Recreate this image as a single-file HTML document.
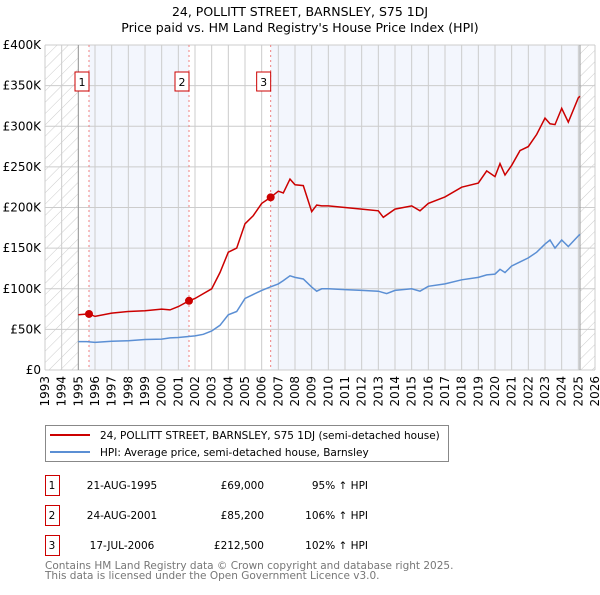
<!DOCTYPE html>
<html><head><meta charset="utf-8">
<style>
body{margin:0;background:#fff;}
svg text{font-family:"DejaVu Sans","Liberation Sans",sans-serif;}
</style></head>
<body>
<svg id="chart" width="600" height="590" viewBox="0 0 600 590" xmlns="http://www.w3.org/2000/svg">
<defs>
<pattern id="hatch" width="8" height="8" patternUnits="userSpaceOnUse" patternTransform="rotate(45)">
<line x1="0" y1="0" x2="0" y2="8" stroke="#ccc" stroke-width="1"/>
</pattern>
</defs>
<text x="300" y="16" text-anchor="middle" font-size="12.5">24, POLLITT STREET, BARNSLEY, S75 1DJ</text>
<text x="300" y="32" text-anchor="middle" font-size="12.5">Price paid vs. HM Land Registry's House Price Index (HPI)</text>
<g id="plot"></g>
<g>
<rect x="45.5" y="425.5" width="403" height="36" fill="#fff" stroke="#888"/>
<line x1="50" y1="435" x2="90" y2="435" stroke="#cc0000" stroke-width="2"/>
<text x="100" y="439" font-size="10.5">24, POLLITT STREET, BARNSLEY, S75 1DJ (semi-detached house)</text>
<line x1="50" y1="452" x2="90" y2="452" stroke="#5b8fd4" stroke-width="2"/>
<text x="100" y="456" font-size="10.5">HPI: Average price, semi-detached house, Barnsley</text>
</g>
<g id="table" font-size="10.5"></g>
<text x="45" y="569" font-size="10.5" fill="#777">Contains HM Land Registry data © Crown copyright and database right 2025.</text>
<text x="45" y="579" font-size="10.5" fill="#777">This data is licensed under the Open Government Licence v3.0.</text>
</svg>
<script>
const yearTicks=[1993,1994,1995,1996,1997,1998,1999,2000,2001,2002,2003,2004,2005,2006,2007,2008,2009,2010,2011,2012,2013,2014,2015,2016,2017,2018,2019,2020,2021,2022,2023,2024,2025,2026];
const priceTicks=[0,50000,100000,150000,200000,250000,300000,350000,400000];
const priceTickLabels=["£0","£50K","£100K","£150K","£200K","£250K","£300K","£350K","£400K"];
const hpiYears=[1995,1995.5,1996,1997,1998,1999,2000,2000.5,2001,2002,2002.5,2003,2003.5,2004,2004.5,2005,2005.5,2006,2006.5,2007,2007.3,2007.7,2008,2008.5,2009,2009.3,2009.6,2010,2011,2012,2013,2013.5,2014,2015,2015.5,2016,2017,2018,2019,2019.5,2020,2020.3,2020.6,2021,2021.5,2022,2022.5,2023,2023.3,2023.6,2024,2024.4,2025,2025.1];
const hpiValues=[35000,35000,34000,35500,36000,37500,38000,39500,40000,42000,44000,48000,55000,68000,72000,88000,93000,98000,102000,106000,110000,116000,114000,112000,102000,97000,100000,100000,99000,98000,97000,94000,98000,100000,97000,103000,106000,111000,114000,117000,118000,124000,120000,128000,133000,138000,145000,155000,160000,150000,160000,152000,165000,167000];
const saleYears=[1995,1995.64,1996,1997,1998,1999,2000,2000.5,2001,2001.64,2002,2003,2003.5,2004,2004.5,2005,2005.5,2006,2006.54,2007,2007.3,2007.7,2008,2008.5,2009,2009.3,2009.6,2010,2011,2012,2013,2013.3,2014,2015,2015.5,2016,2017,2018,2019,2019.5,2020,2020.3,2020.6,2021,2021.5,2022,2022.5,2023,2023.3,2023.6,2024,2024.4,2025,2025.1];
const saleValues=[68000,69000,66000,70000,72000,73000,75000,74000,78000,85200,88000,100000,120000,145000,150000,180000,190000,205000,212500,220000,218000,235000,228000,227000,195000,203000,202000,202000,200000,198000,196000,188000,198000,202000,196000,205000,213000,225000,230000,245000,238000,254000,240000,252000,270000,275000,290000,310000,303000,302000,322000,305000,335000,337000];
const saleMarkerYears=[1995.64,2001.64,2006.54];
const saleMarkerValues=[69000,85200,212500];
const saleLabels=["1","2","3"];
const saleDates=["21-AUG-1995","24-AUG-2001","17-JUL-2006"];
const salePrices=["£69,000","£85,200","£212,500"];
const saleHpi=["95% ↑ HPI","106% ↑ HPI","102% ↑ HPI"];

const X0=45,X1=595,Y0=370,Y1=45;
const xs=y=>X0+(y-1993)/(2026-1993)*(X1-X0);
const ys=v=>Y0-v/400000*(Y0-Y1);
const NS="http://www.w3.org/2000/svg";
const plot=document.getElementById('plot');
function mk(tag,attrs,parent){const e=document.createElementNS(NS,tag);for(const k in attrs)e.setAttribute(k,attrs[k]);(parent||plot).appendChild(e);return e;}

let e;
e=mk('rect',{x:X0,y:Y1,width:xs(1995)-X0,height:Y0-Y1,fill:'url(#hatch)'});


e=mk('rect',{x:xs(2025.1),y:Y1,width:X1-xs(2025.1),height:Y0-Y1,fill:'url(#hatch)'});


e=mk('rect',{x:xs(saleMarkerYears[0]),y:Y1,width:xs(saleMarkerYears[1])-xs(saleMarkerYears[0]),height:Y0-Y1,fill:'#f3f6fd'});


e=mk('rect',{x:xs(saleMarkerYears[2]),y:Y1,width:xs(2025.1)-xs(saleMarkerYears[2]),height:Y0-Y1,fill:'#f3f6fd'});



yearTicks.forEach(y=>{
 e=mk('line',{x1:xs(y),x2:xs(y),y1:Y1,y2:Y0,stroke:'#ccc','stroke-width':1});
 
 
 e=mk('text',{x:0,y:0,'font-size':12,'text-anchor':'end',transform:`translate(${xs(y)+4},${Y0+6}) rotate(-90)`});
 e.textContent=y;
 
 
});
priceTicks.forEach((v,i)=>{
 e=mk('line',{x1:X0,x2:X1,y1:ys(v),y2:ys(v),stroke:'#ccc','stroke-width':1});
 
 
 e=mk('text',{x:X0-4,y:ys(v)+4,'font-size':12,'text-anchor':'end'});
 e.textContent=priceTickLabels[i];
 
 
});
e=mk('line',{x1:xs(1995),x2:xs(1995),y1:Y1,y2:Y0,stroke:'#999','stroke-width':1});


e=mk('line',{x1:xs(2025.1),x2:xs(2025.1),y1:Y1,y2:Y0,stroke:'#999','stroke-width':1});



saleMarkerYears.forEach((y,i)=>{
 e=mk('line',{x1:xs(y),x2:xs(y),y1:Y1,y2:Y0,stroke:'#f08080','stroke-width':1,'stroke-dasharray':'2,3'});
 
 
 const bx=xs(y)-10;
 e=mk('rect',{x:bx-4,y:72,width:14,height:19,fill:'#fff',stroke:'#cc0000','stroke-width':1});
 
 
 e=mk('text',{x:bx+3,y:86,'font-size':11,'text-anchor':'middle'});
 e.textContent=saleLabels[i];
 
 
});

const path=(xa,va)=>xa.map((y,i)=>(i?'L':'M')+xs(y).toFixed(1)+','+ys(va[i]).toFixed(1)).join('');
e=mk('path',{d:path(hpiYears,hpiValues),fill:'none',stroke:'#5b8fd4','stroke-width':1.5});


e=mk('path',{d:path(saleYears,saleValues),fill:'none',stroke:'#cc0000','stroke-width':1.5});


saleMarkerYears.forEach((y,i)=>{
 e=mk('circle',{cx:xs(y),cy:ys(saleMarkerValues[i]),r:4,fill:'#cc0000'});
 
 
});

const tbl=document.getElementById('table');
saleLabels.forEach((l,i)=>{
 const yy=475+i*30;
 e=mk('rect',{x:45.5,y:yy+0.5,width:14,height:20,fill:'#fff',stroke:'#cc0000'},tbl);
 
 
 const cells=[[52,'middle',l],[122,'middle',saleDates[i]],[264,'end',salePrices[i]],[368,'end',saleHpi[i]]];
 cells.forEach(c=>{
  e=mk('text',{x:c[0],y:yy+14,'text-anchor':c[1]},tbl);
  e.textContent=c[2];
  
  
 });
});
</script>
</body></html>
